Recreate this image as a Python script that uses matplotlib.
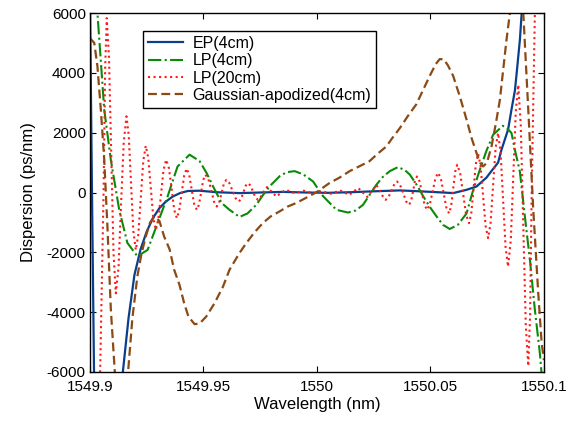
import matplotlib
matplotlib.use('Agg')
import matplotlib.pyplot as plt

# === DATA ===
wl_ep = [1549.9000, 1549.9009, 1549.9018, 1549.9030, 1549.9080, 1549.9145, 1549.9170, 1549.9196,
         1549.9223, 1549.9250, 1549.9278, 1549.9306, 1549.9335, 1549.9365, 1549.9397, 1549.9431,
         1549.9483, 1549.9557, 1549.9659, 1549.9750, 1549.9850, 1549.9950, 1550.0050, 1550.0150,
         1550.0250, 1550.0365, 1550.0453, 1550.0556, 1550.0600, 1550.0659, 1550.0703, 1550.0747,
         1550.0762, 1550.0798, 1550.0813, 1550.0842, 1550.0857, 1550.0872, 1550.0880, 1550.0894,
         1550.0902, 1550.0912, 1550.1000]
d_ep = [6500, 0, -6000, -11000, -14000, -6000, -4200, -2757,
        -1900, -1306, -850, -523, -300, -134, -20, 50,
        60, 10, -20, 0, 20, 0, -10, 10,
        40, 70, 40, 0, -20, 90, 200, 500,
        650, 1000, 1430, 2100, 2770, 3400, 4000, 5100,
        6000, 7500, 20000]

wl_lp4 = [1549.9000, 1549.9033, 1549.9063, 1549.9092, 1549.9129, 1549.9165, 1549.9209, 1549.9254,
          1549.9298, 1549.9342, 1549.9386, 1549.9439, 1549.9483, 1549.9514, 1549.9542, 1549.9580,
          1549.9615, 1549.9659, 1549.9694, 1549.9733, 1549.9761, 1549.9792, 1549.9836, 1549.9867,
          1549.9902, 1549.9941, 1549.9983, 1550.0027, 1550.0086, 1550.0137, 1550.0171, 1550.0203,
          1550.0232, 1550.0262, 1550.0290, 1550.0321, 1550.0357, 1550.0387, 1550.0409, 1550.0440,
          1550.0468, 1550.0497, 1550.0527, 1550.0555, 1550.0585, 1550.0621, 1550.0659, 1550.0687,
          1550.0718, 1550.0747, 1550.0776, 1550.0819, 1550.0842, 1550.0857, 1550.0872, 1550.0894,
          1550.0916, 1550.0938, 1550.0960, 1550.0982, 1550.1000]
d_lp4 = [10000, 6000, 2770, 1095, -580, -1685, -2130, -1920,
         -1025, -134, 870, 1265, 1050, 650, 210, -350,
         -580, -817, -700, -410, -100, 210, 546, 680,
         714, 600, 368, -124, -580, -670, -600, -412,
         -80, 260, 520, 714, 850, 750, 600, 250,
         -124, -480, -800, -1080, -1220, -1080, -700, 50,
         770, 1400, 1930, 2230, 2110, 1990, 1430, 700,
         -800, -2240, -3920, -5370, -7000]

wl_lp20 = [1549.9000, 1549.9030, 1549.9045, 1549.9060, 1549.9067, 1549.9074, 1549.9084, 1549.9094,
           1549.9104, 1549.9114, 1549.9126, 1549.9137, 1549.9149, 1549.9161, 1549.9171, 1549.9181,
           1549.9191, 1549.9202, 1549.9213, 1549.9224, 1549.9235, 1549.9246, 1549.9257, 1549.9268,
           1549.9279, 1549.9290, 1549.9301, 1549.9313, 1549.9324, 1549.9336, 1549.9348, 1549.9360,
           1549.9371, 1549.9383, 1549.9393, 1549.9404, 1549.9415, 1549.9426, 1549.9437, 1549.9448,
           1549.9459, 1549.9471, 1549.9480, 1549.9490, 1549.9499, 1549.9509, 1549.9522, 1549.9535,
           1549.9547, 1549.9559, 1549.9569, 1549.9580, 1549.9590, 1549.9601, 1549.9614, 1549.9628,
           1549.9642, 1549.9656, 1549.9666, 1549.9676, 1549.9686, 1549.9696, 1549.9707, 1549.9718,
           1549.9729, 1549.9740, 1549.9750, 1549.9760, 1549.9780, 1549.9800, 1549.9821, 1549.9841,
           1549.9862, 1549.9882, 1549.9902, 1549.9922, 1549.9942, 1549.9962, 1549.9982, 1550.0002,
           1550.0022, 1550.0042, 1550.0062, 1550.0082, 1550.0102, 1550.0122, 1550.0142, 1550.0162,
           1550.0182, 1550.0202, 1550.0222, 1550.0242, 1550.0262, 1550.0282, 1550.0293, 1550.0303,
           1550.0315, 1550.0328, 1550.0341, 1550.0353, 1550.0366, 1550.0380, 1550.0393, 1550.0406,
           1550.0415, 1550.0424, 1550.0432, 1550.0441, 1550.0452, 1550.0463, 1550.0474, 1550.0485,
           1550.0497, 1550.0510, 1550.0522, 1550.0534, 1550.0546, 1550.0558, 1550.0570, 1550.0582,
           1550.0591, 1550.0600, 1550.0609, 1550.0618, 1550.0631, 1550.0644, 1550.0657, 1550.0670,
           1550.0680, 1550.0690, 1550.0700, 1550.0710, 1550.0721, 1550.0732, 1550.0743, 1550.0754,
           1550.0765, 1550.0776, 1550.0787, 1550.0798, 1550.0809, 1550.0820, 1550.0831, 1550.0842,
           1550.0854, 1550.0865, 1550.0876, 1550.0887, 1550.0898, 1550.0909, 1550.0920, 1550.0931,
           1550.0939, 1550.0946, 1550.0960, 1550.0975, 1550.1000]
d_lp20 = [-7500, -9000, -6000, 0, 4140, 5830, 4500, 1230,
          -2036, -3370, -2512, -410, 1689, 2546, 1898, 310,
          -1273, -1920, -1415, -180, 1056, 1560, 1152, 150,
          -844, -1250, -911, -80, 754, 1095, 812, 120,
          -576, -860, -620, -30, 559, 800, 600, 110,
          -380, -580, -412, 5, 421, 593, 438, 60,
          -316, -469, -339, -20, 296, 425, 319, 60,
          -196, -300, -213, 5, 224, 315, 234, 35,
          -164, -245, -183, -30, 181, 25, -134, -20,
          90, 35, -20, 20, 60, 15, -30, 5,
          40, 0, -40, 15, 70, -5, -80, 35,
          150, 0, -150, 50, 250, 0, -174, -245,
          -157, 60, 278, 368, 255, -20, -299, -412,
          -276, 60, 398, 536, 375, -20, -418, -580,
          -400, 40, 481, 660, 463, -20, -503, -700,
          -465, 110, 691, 928, 644, -50, -743, -1025,
          -689, 135, 959, 1296, 887, -115, -1118, -1528,
          -1018, 230, 1480, 1990, 1342, -245, -1831, -2479,
          -1598, 560, 2718, 3600, 2237, -1100, -4437, -5800,
          -4118, 0, 6000, 9000, 12000]

wl_gauss = [1549.9000, 1549.9019, 1549.9033, 1549.9048, 1549.9063, 1549.9077, 1549.9092, 1549.9109,
            1549.9121, 1549.9135, 1549.9168, 1549.9187, 1549.9209, 1549.9227, 1549.9246, 1549.9265,
            1549.9284, 1549.9306, 1549.9327, 1549.9351, 1549.9371, 1549.9395, 1549.9415, 1549.9434,
            1549.9461, 1549.9483, 1549.9512, 1549.9549, 1549.9586, 1549.9615, 1549.9659, 1549.9689,
            1549.9725, 1549.9762, 1549.9796, 1549.9836, 1549.9871, 1549.9909, 1549.9959,
            1550.0000, 1550.0056, 1550.0100, 1550.0144, 1550.0188, 1550.0232, 1550.0268, 1550.0306,
            1550.0330, 1550.0365, 1550.0400, 1550.0438, 1550.0466, 1550.0497, 1550.0524, 1550.0541,
            1550.0559, 1550.0577, 1550.0600, 1550.0630, 1550.0659, 1550.0682, 1550.0703, 1550.0718,
            1550.0732, 1550.0749, 1550.0769, 1550.0788, 1550.0806, 1550.0819, 1550.0835, 1550.0850,
            1550.0876, 1550.0909, 1550.0931, 1550.0953, 1550.0975, 1550.0990, 1550.1000]
d_gauss = [5160, 5000, 4220, 2770, 1100, -1130, -3900, -5930,
           -7500, -8000, -6000, -4200, -2800, -2050, -1474, -1000,
           -800, -950, -1474, -1900, -2580, -3100, -3700, -4150,
           -4400, -4380, -4150, -3700, -3150, -2580, -2020, -1690,
           -1330, -1020, -800, -630, -470, -350, -150,
           20, 320, 500, 714, 880, 1050, 1300, 1540,
           1800, 2150, 2550, 2950, 3400, 3900, 4300, 4460,
           4450, 4250, 3900, 3200, 2440, 1800, 1320, 1000,
           870, 1000, 1540, 2300, 3100, 4000, 5100, 6000,
           8000, 6000, 2770, -580, -3370, -5040, -5600]

labels = ['EP(4cm)', 'LP(4cm)', 'LP(20cm)', 'Gaussian-apodized(4cm)']
x_ticks = [1549.9, 1549.95, 1550, 1550.05, 1550.1]
x_ticklabels = ['1549.9', '1549.95', '1550', '1550.05', '1550.1']
y_ticks = [-6000, -4000, -2000, 0, 2000, 4000, 6000]

# === STYLE ===
plt.rcParams['font.family'] = ['Liberation Sans', 'DejaVu Sans']
plt.rcParams['font.size'] = 11.5
plt.rcParams['axes.unicode_minus'] = False

fig = plt.figure(figsize=(5.84, 4.21), dpi=100)
ax = fig.add_axes([0.154, 0.1164, 0.7774, 0.8527])

# === PLOT ===
ax.plot(wl_ep, d_ep, color='#0b3f8c', lw=1.6, label=labels[0])
ax.plot(wl_lp4, d_lp4, color='#0a8a0a', lw=1.5, ls='-.', label=labels[1])
ax.plot(wl_lp20, d_lp20, color='#ff1a1a', lw=1.5, ls=':', label=labels[2])
ax.plot(wl_gauss, d_gauss, color='#8b4a14', lw=1.6, ls=(0, (4, 2)), label=labels[3])

ax.set_xlim(1549.9, 1550.1)
ax.set_ylim(-6000, 6000)
ax.set_xticks(x_ticks)
ax.set_xticklabels(x_ticklabels)
ax.set_yticks(y_ticks)
ax.tick_params(direction='in', top=True, right=True, length=4, width=0.8, labelsize=11)
ax.tick_params(axis='x', pad=6)
ax.tick_params(axis='y', pad=3)
for s in ax.spines.values():
    s.set_linewidth(1.0)

ax.set_xlabel('Wavelength (nm)', fontsize=12, labelpad=2)
ax.set_ylabel('Dispersion (ps/nm)', fontsize=12, labelpad=8)

leg = ax.legend(loc='upper left', bbox_to_anchor=(0.117, 0.95), borderaxespad=0,
                fancybox=False, framealpha=1, edgecolor='black', handlelength=2.2,
                labelspacing=0.15, borderpad=0.3, handletextpad=0.6, fontsize=11.5)
leg.get_frame().set_linewidth(1.0)

plt.savefig('out.png', dpi=100)
plt.close()
